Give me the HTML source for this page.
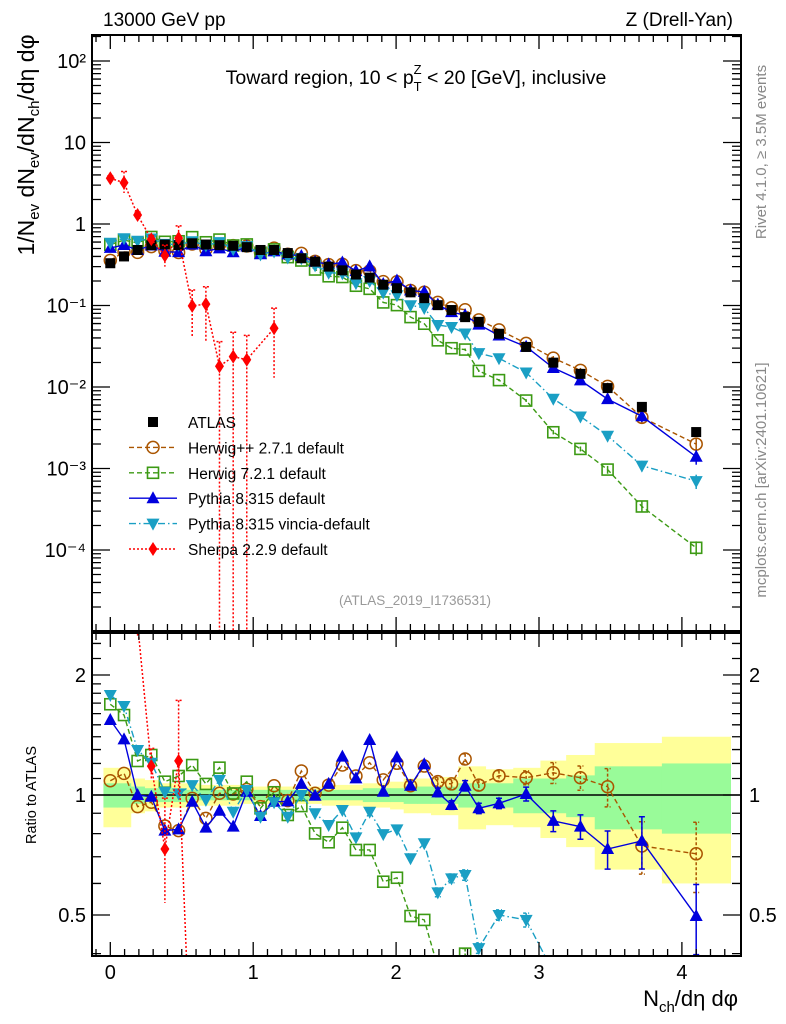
<!DOCTYPE html>
<html><head><meta charset="utf-8"><style>
html,body{margin:0;padding:0;background:#fff;width:786px;height:1024px;overflow:hidden}
svg{display:block;font-family:"Liberation Sans",sans-serif;overflow:hidden}
</style></head><body>
<svg id="c" width="786" height="1024" viewBox="0 0 786 1024">
<defs>
<clipPath id="cm"><rect x="92" y="35" width="650" height="596"/></clipPath>
<clipPath id="cr"><rect x="92" y="633" width="650" height="323"/></clipPath>
</defs>
<g id="bands" clip-path="url(#cr)"></g>
<line x1="92" y1="795" x2="741" y2="795" stroke="#000" stroke-width="1.5"/>
<g id="mainMarks" clip-path="url(#cm)"></g>
<g id="ratioMarks" clip-path="url(#cr)"></g>
<rect x="92" y="35" width="649" height="596" fill="none" stroke="#000" stroke-width="2"/>
<rect x="92" y="633" width="649" height="323" fill="none" stroke="#000" stroke-width="2"/>
<g id="ticks"></g>
<text x="103" y="26" font-size="19">13000 GeV pp</text>
<text x="733" y="26" font-size="19" text-anchor="end">Z (Drell-Yan)</text>
<text x="416" y="84" font-size="19.5" text-anchor="middle">Toward region, 10 &lt; p<tspan font-size="13" dy="7">T</tspan><tspan font-size="13" dx="-8" dy="-17">Z</tspan><tspan dy="10"> &lt; 20 [GeV], inclusive</tspan></text>
<text transform="translate(34,145) rotate(-90)" font-size="23" text-anchor="middle">1/N<tspan font-size="15" dy="5">ev</tspan><tspan dy="-5"> dN</tspan><tspan font-size="15" dy="5">ev</tspan><tspan dy="-5">/dN</tspan><tspan font-size="15" dy="5">ch</tspan><tspan dy="-5">/dη dφ</tspan></text>
<text transform="translate(36,795) rotate(-90)" font-size="14.5" text-anchor="middle">Ratio to ATLAS</text>
<text transform="translate(766,152) rotate(-90)" font-size="15" fill="#888" text-anchor="middle">Rivet 4.1.0, ≥ 3.5M events</text>
<text transform="translate(766,480) rotate(-90)" font-size="15" fill="#888" text-anchor="middle">mcplots.cern.ch [arXiv:2401.10621]</text>
<text x="415" y="605" font-size="13.5" fill="#999" text-anchor="middle">(ATLAS_2019_I1736531)</text>
<text x="738" y="1006" font-size="22" text-anchor="end">N<tspan font-size="15" dy="6">ch</tspan><tspan dy="-6">/dη dφ</tspan></text>
<g id="legend"></g>
</svg>
<script>
const binCenters=[0,0.096,0.191,0.287,0.382,0.478,0.573,0.669,0.764,0.860,0.955,1.051,1.146,1.242,1.337,1.433,1.528,1.624,1.719,1.815,1.910,2.006,2.101,2.197,2.292,2.388,2.483,2.579,2.72,2.91,3.10,3.29,3.48,3.72,4.10];
const binEdges=[-0.048,0.048,0.143,0.239,0.334,0.430,0.525,0.621,0.716,0.812,0.907,1.003,1.098,1.194,1.289,1.385,1.480,1.576,1.671,1.767,1.862,1.958,2.053,2.149,2.244,2.340,2.435,2.531,2.626,2.82,3.01,3.19,3.39,3.58,3.86,4.34];
const atlas=[0.33,0.40,0.48,0.55,0.56,0.55,0.58,0.56,0.55,0.54,0.52,0.48,0.48,0.44,0.38,0.345,0.30,0.27,0.24,0.22,0.18,0.163,0.145,0.123,0.101,0.088,0.072,0.063,0.045,0.031,0.0199,0.0145,0.0097,0.0057,0.0028];
const ratioHerwigPP=[1.086,1.133,0.935,0.959,0.836,0.814,0.981,0.874,1.01,1.006,1.033,0.935,1.055,0.968,1.149,1.01,1.059,1.189,1.116,1.205,1.091,1.201,1.055,1.182,1.080,1.066,1.231,1.059,1.118,1.105,1.137,1.105,1.049,0.745,0.712];
const ratioHerwig7=[1.689,1.587,1.217,1.26,1.08,1.116,1.189,1.066,1.171,1.009,1.08,0.926,1.016,0.891,0.938,0.801,0.761,0.828,0.728,0.728,0.606,0.620,0.497,0.486,0.37,0.34,0.40,0.25,0.27,0.22,0.14,0.12,0.10,0.06,0.038];
const ratioPythia=[1.542,1.379,1.0,0.99,0.814,0.820,0.962,0.828,0.913,0.833,1.019,0.886,0.962,0.964,1.066,0.996,1.066,1.248,1.101,1.374,1.019,1.243,1.055,1.194,1.015,0.944,1.055,0.926,0.953,1.006,0.861,0.833,0.732,0.767,0.497];
const ratioVincia=[1.782,1.672,1.297,1.205,1.019,1.009,1.059,0.972,1.091,0.908,1.029,0.882,0.959,0.882,1.0,0.900,0.841,0.917,0.783,0.908,0.798,0.820,0.694,0.757,0.570,0.618,0.630,0.413,0.5,0.486,0.36,0.30,0.26,0.19,0.25];
const sherpa=[3.64,3.21,1.29,0.65,0.41,0.67,0.099,0.104,0.018,0.0236,0.0216,null,0.0525];
const sherpaLo=[3.4,2.4,1.2,0.6,0.30,0.55,0.04,0.036,1e-7,1e-7,1e-7,null,0.013];
const sherpaHi=[3.9,4.4,1.4,0.72,0.55,0.95,0.155,0.17,0.036,0.047,0.043,null,0.093];
const mcRelErr=[0.01,0.01,0.01,0.01,0.01,0.01,0.01,0.01,0.01,0.01,0.01,0.01,0.01,0.01,0.01,0.01,0.015,0.015,0.015,0.015,0.02,0.02,0.02,0.02,0.025,0.025,0.03,0.03,0.03,0.04,0.06,0.07,0.11,0.15,0.2];
const bandTotal=[0.17,0.17,0.10,0.09,0.07,0.07,0.07,0.06,0.06,0.06,0.05,0.05,0.05,0.05,0.05,0.05,0.06,0.06,0.06,0.07,0.07,0.08,0.10,0.10,0.11,0.11,0.18,0.18,0.16,0.17,0.22,0.26,0.35,0.35,0.40];
const bandStat=[0.07,0.07,0.05,0.04,0.04,0.04,0.03,0.03,0.03,0.03,0.03,0.03,0.03,0.03,0.03,0.03,0.03,0.03,0.03,0.04,0.04,0.04,0.05,0.05,0.05,0.05,0.07,0.07,0.07,0.10,0.10,0.12,0.18,0.18,0.20];
const xTickLabels=["0","1","2","3","4"];
const yTickLabels=["10²","10","1","10⁻¹","10⁻²","10⁻³","10⁻⁴"];
const ratioTickLabels=["2","1","0.5"];

const NS="http://www.w3.org/2000/svg";
const X=v=>110.3+142.9*v;
const YM=v=>224-81.5*Math.log10(v);
const YR=r=>795-120*Math.log2(r);
function mk(tag,attrs,parent){const e=document.createElementNS(NS,tag);for(const k in attrs)e.setAttribute(k,attrs[k]);parent.appendChild(e);return e;}
const gM=document.getElementById('mainMarks'),gR=document.getElementById('ratioMarks'),gB=document.getElementById('bands'),gT=document.getElementById('ticks'),gL=document.getElementById('legend');

[[bandTotal,'#ffff99'],[bandStat,'#99fb99']].forEach(([arr,col])=>{
  arr.forEach((f,i)=>{
    const r=mk('rect',{x:X(binEdges[i]),y:YR(1+f),width:X(binEdges[i+1])-X(binEdges[i])+0.5,height:YR(1-f)-YR(1+f),fill:col},gB);
    
    
  });
});

function marker(type,x,y,col,g){
  let e;
  if(type==='sq')e=mk('rect',{x:x-5,y:y-5,width:10,height:10,fill:'#000'},g);
  else if(type==='circ')e=mk('circle',{cx:x,cy:y,r:6,fill:'none',stroke:col,'stroke-width':1.5},g);
  else if(type==='osq')e=mk('rect',{x:x-5.5,y:y-5.5,width:11,height:11,fill:'none',stroke:col,'stroke-width':1.6},g);
  else if(type==='tup')e=mk('polygon',{points:`${x},${y-7} ${x-6.5},${y+5} ${x+6.5},${y+5}`,fill:col},g);
  else if(type==='tdn')e=mk('polygon',{points:`${x},${y+7} ${x-6.5},${y-5} ${x+6.5},${y-5}`,fill:col},g);
  else if(type==='dia')e=mk('polygon',{points:`${x},${y-7} ${x-4.5},${y} ${x},${y+7} ${x+4.5},${y}`,fill:col},g);
  return e;
}
const series=[
 {name:'herwigpp',ratio:ratioHerwigPP,col:'#aa5500',m:'circ',dash:'5,3'},
 {name:'herwig7',ratio:ratioHerwig7,col:'#3c9a14',m:'osq',dash:'5,3'},
 {name:'pythia',ratio:ratioPythia,col:'#0000dd',m:'tup',dash:''},
 {name:'vincia',ratio:ratioVincia,col:'#1a9fc4',m:'tdn',dash:'7,3,1.5,3'}
];
series.forEach(s=>{
  const vals=s.ratio.map((r,i)=>r*atlas[i]);
  const lm=mk('polyline',{points:vals.map((v,i)=>X(binCenters[i])+','+YM(v)).join(' '),fill:'none',stroke:s.col,'stroke-width':1.4,'stroke-dasharray':s.dash},gM);
  
  
  const lr=mk('polyline',{points:s.ratio.map((r,i)=>X(binCenters[i])+','+YR(r)).join(' '),fill:'none',stroke:s.col,'stroke-width':1.4,'stroke-dasharray':s.dash},gR);
  
  
  s.ratio.forEach((r,i)=>{
    const x=X(binCenters[i]),e=mcRelErr[i];
    if(e>0.02){
      const eb=mk('path',{d:`M${x},${YR(r*(1+e))}V${YR(r*(1-e))}M${x-3},${YR(r*(1+e))}h6M${x-3},${YR(r*(1-e))}h6`,stroke:s.col,'stroke-width':1.5,fill:'none','stroke-dasharray':s.dash?'3,2':''},gR);
      
      
      const v=vals[i];
      const em=mk('path',{d:`M${x},${YM(v*(1+e))}V${YM(v*(1-e))}`,stroke:s.col,'stroke-width':1.5},gM);
      
      
    }
    const p=marker(s.m,x,YM(vals[i]),s.col,gM);
    
    
    const q=marker(s.m,x,YR(r),s.col,gR);
    
    
  });
});
atlas.forEach((v,i)=>{
  const p=marker('sq',X(binCenters[i]),YM(v),'#000',gM);
  
  
});
{
  const pts=[],rpts=[];
  sherpa.forEach((v,i)=>{ if(v!==null){pts.push(X(binCenters[i])+','+YM(v));rpts.push(X(binCenters[i])+','+YR(v/atlas[i]));} });
  const l=mk('polyline',{points:pts.join(' '),fill:'none',stroke:'#ff0000','stroke-width':1.5,'stroke-dasharray':'2,2'},gM);
  
  
  const lr=mk('polyline',{points:rpts.join(' '),fill:'none',stroke:'#ff0000','stroke-width':1.5,'stroke-dasharray':'2,2'},gR);
  
  
  sherpa.forEach((v,i)=>{
    if(v===null)return;
    const x=X(binCenters[i]);
    const e=mk('path',{d:`M${x},${YM(sherpaHi[i])}V${YM(sherpaLo[i])}M${x-3},${YM(sherpaHi[i])}h6`,stroke:'#ff0000','stroke-width':1.5,'stroke-dasharray':'2,2'},gM);
    
    
    const er=mk('path',{d:`M${x},${YR(sherpaHi[i]/atlas[i])}V${YR(sherpaLo[i]/atlas[i])}M${x-3},${YR(sherpaHi[i]/atlas[i])}h6`,stroke:'#ff0000','stroke-width':1.5,'stroke-dasharray':'2,2'},gR);
    
    
    const p=marker('dia',x,YM(v),'#ff0000',gM);
    
    
    const q=marker('dia',x,YR(v/atlas[i]),'#ff0000',gR);
    
    
  });
}
let d='';
for(let k=-1;k<=43;k++){const v=k/10,x=X(v);if(x<93||x>740)continue;const L=(k%10===0)?14:7;
  d+=`M${x},631v-${L}M${x},35v${L}M${x},956v-${L}M${x},633v${L}`;}
for(let e=-5;e<=2;e++){for(let m=1;m<=9;m++){const v=m*Math.pow(10,e),y=YM(v);if(y<36||y>630)continue;const L=m===1?18:9;d+=`M92,${y}h${L}M741,${y}h-${L}`;}}
[0.4,0.5,0.6,0.7,0.8,0.9,1,1.1,1.2,1.3,1.4,1.5,1.6,1.7,1.8,1.9,2,2.2,2.4].forEach(r=>{const y=YR(r);if(y<634||y>955)return;const L=(r===0.5||r===1||r===2)?18:9;d+=`M92,${y}h${L}M741,${y}h-${L}`;});
const tp=mk('path',{d:d,stroke:'#000','stroke-width':1.3,fill:'none'},gT);


xTickLabels.forEach((t,i)=>{const e=mk('text',{x:X(i),y:979,'font-size':20,'text-anchor':'middle'},gT);e.textContent=t;
  
  });
yTickLabels.forEach((t,i)=>{const e=mk('text',{x:86,y:YM(Math.pow(10,2-i))+7,'font-size':20,'text-anchor':'end'},gT);e.textContent=t;
  
  });
ratioTickLabels.forEach((t,i)=>{const r=[2,1,0.5][i];
  const a=mk('text',{x:86,y:YR(r)+7,'font-size':20,'text-anchor':'end'},gT);a.textContent=t;
  
  
  const b=mk('text',{x:749,y:YR(r)+7,'font-size':20},gT);b.textContent=t;
  
  });
const leg=[['ATLAS','sq','#000',''],['Herwig++ 2.7.1 default','circ','#aa5500','5,3'],['Herwig 7.2.1 default','osq','#3c9a14','5,3'],['Pythia 8.315 default','tup','#0000dd',''],['Pythia 8.315 vincia-default','tdn','#1a9fc4','7,3,1.5,3'],['Sherpa 2.2.9 default','dia','#ff0000','2,2']];
leg.forEach((l,i)=>{const y=422+i*25.4;
  const g=mk('g',{},gL);
  
  
  if(i>0)mk('line',{x1:129,y1:y,x2:177,y2:y,stroke:l[2],'stroke-width':1.4,'stroke-dasharray':l[3]},g);
  marker(l[1],153,y,l[2],g);
  const t=mk('text',{x:188,y:y+6,'font-size':15.5},g);t.textContent=l[0];
});
</script>
</body></html>
